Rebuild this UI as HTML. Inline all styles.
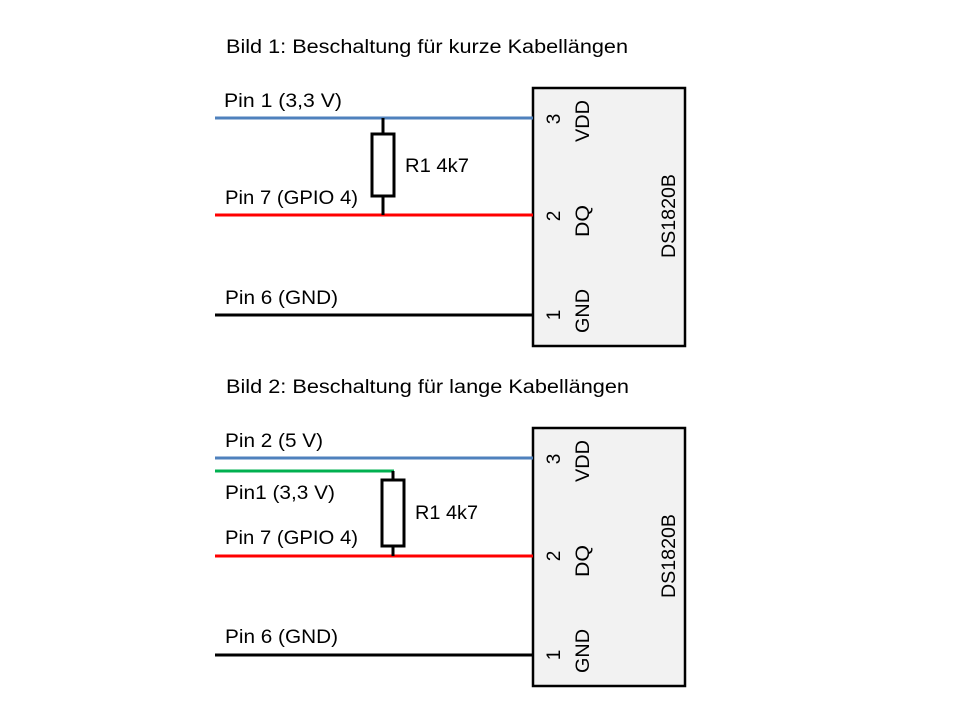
<!DOCTYPE html>
<html><head><meta charset="utf-8"><style>
body{margin:0;background:#fff}
svg text{font-family:"Liberation Sans",sans-serif;font-size:19px;fill:#000}
</style></head><body>
<svg width="960" height="720" viewBox="0 0 960 720" xmlns="http://www.w3.org/2000/svg">
<text x="226" y="53" textLength="402" lengthAdjust="spacingAndGlyphs">Bild 1: Beschaltung für kurze Kabellängen</text>
<rect x="533" y="88" width="152" height="258" fill="#f2f2f2" stroke="#000" stroke-width="2.5"/>
<line x1="215" y1="118" x2="533" y2="118" stroke="#4f81bd" stroke-width="3"/>
<line x1="215" y1="215" x2="533" y2="215" stroke="#ff0000" stroke-width="3"/>
<line x1="215" y1="315" x2="533" y2="315" stroke="#000" stroke-width="3"/>
<line x1="383" y1="118" x2="383" y2="215" stroke="#000" stroke-width="3"/>
<rect x="372" y="134" width="22" height="62" fill="#fff" stroke="#000" stroke-width="3"/>
<text x="405" y="172" textLength="64" lengthAdjust="spacingAndGlyphs">R1 4k7</text>
<text x="224" y="107" textLength="118" lengthAdjust="spacingAndGlyphs">Pin 1 (3,3 V)</text>
<text x="225" y="204" textLength="133" lengthAdjust="spacingAndGlyphs">Pin 7 (GPIO 4)</text>
<text x="225" y="304" textLength="113" lengthAdjust="spacingAndGlyphs">Pin 6 (GND)</text>
<g text-anchor="middle">
<text transform="translate(560,119) rotate(-90)">3</text>
<text transform="translate(589,121) rotate(-90)" textLength="42" lengthAdjust="spacingAndGlyphs">VDD</text>
<text transform="translate(560,216) rotate(-90)">2</text>
<text transform="translate(589,221) rotate(-90)" textLength="32" lengthAdjust="spacingAndGlyphs">DQ</text>
<text transform="translate(560,315) rotate(-90)">1</text>
<text transform="translate(589,311) rotate(-90)" textLength="44" lengthAdjust="spacingAndGlyphs">GND</text>
<text transform="translate(675,216) rotate(-90)" textLength="84" lengthAdjust="spacingAndGlyphs">DS1820B</text>
</g>
<text x="226" y="393" textLength="403" lengthAdjust="spacingAndGlyphs">Bild 2: Beschaltung für lange Kabellängen</text>
<rect x="533" y="428" width="152" height="258" fill="#f2f2f2" stroke="#000" stroke-width="2.5"/>
<line x1="215" y1="458" x2="533" y2="458" stroke="#4f81bd" stroke-width="3"/>
<line x1="215" y1="471" x2="394" y2="471" stroke="#00b050" stroke-width="3"/>
<line x1="215" y1="556" x2="533" y2="556" stroke="#ff0000" stroke-width="3"/>
<line x1="215" y1="655" x2="533" y2="655" stroke="#000" stroke-width="3"/>
<line x1="393" y1="471" x2="393" y2="556" stroke="#000" stroke-width="3"/>
<rect x="382" y="480" width="22" height="66" fill="#fff" stroke="#000" stroke-width="3"/>
<text x="415" y="519" textLength="63" lengthAdjust="spacingAndGlyphs">R1 4k7</text>
<text x="225" y="447" textLength="98" lengthAdjust="spacingAndGlyphs">Pin 2 (5 V)</text>
<text x="225" y="499" textLength="110" lengthAdjust="spacingAndGlyphs">Pin1 (3,3 V)</text>
<text x="225" y="544" textLength="133" lengthAdjust="spacingAndGlyphs">Pin 7 (GPIO 4)</text>
<text x="225" y="643" textLength="113" lengthAdjust="spacingAndGlyphs">Pin 6 (GND)</text>
<g text-anchor="middle">
<text transform="translate(560,459) rotate(-90)">3</text>
<text transform="translate(589,461) rotate(-90)" textLength="42" lengthAdjust="spacingAndGlyphs">VDD</text>
<text transform="translate(560,556) rotate(-90)">2</text>
<text transform="translate(589,561) rotate(-90)" textLength="32" lengthAdjust="spacingAndGlyphs">DQ</text>
<text transform="translate(560,655) rotate(-90)">1</text>
<text transform="translate(589,651) rotate(-90)" textLength="44" lengthAdjust="spacingAndGlyphs">GND</text>
<text transform="translate(675,556) rotate(-90)" textLength="84" lengthAdjust="spacingAndGlyphs">DS1820B</text>
</g>
</svg>
</body></html>
